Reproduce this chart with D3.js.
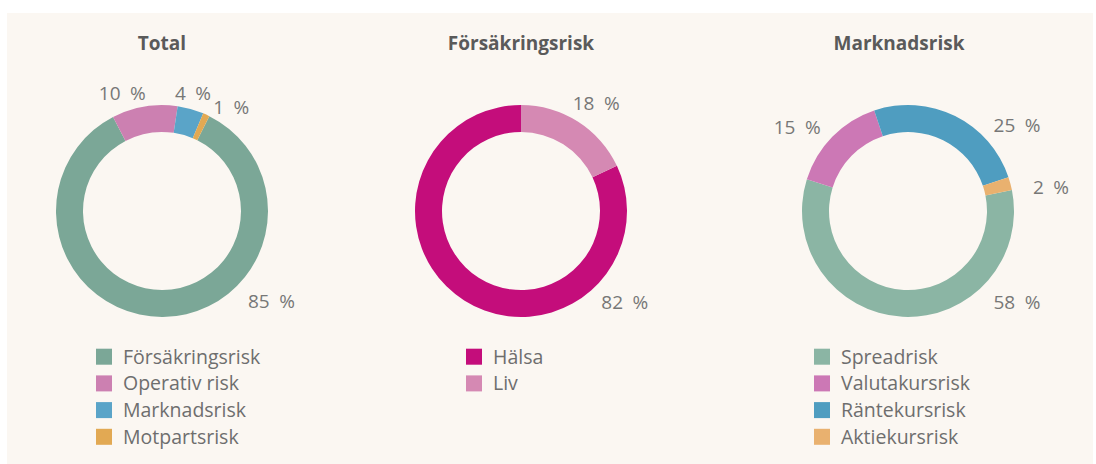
<!DOCTYPE html>
<html>
<head>
<meta charset="utf-8">
<script src="https://cdn.jsdelivr.net/npm/d3@7"></script>
<style>
  body { margin: 0; background: #fff; }
  svg { display: block; }
</style>
</head>
<body>
<div id="chart"></div>
<script>
// data
const titles = ["Total", "Försäkringsrisk", "Marknadsrisk"];

const totalCategories = ["Försäkringsrisk", "Operativ risk", "Marknadsrisk", "Motpartsrisk"];
const totalValues = [85, 10, 4, 1];

const forsCategories = ["Hälsa", "Liv"];
const forsValues = [82, 18];

const markCategories = ["Spreadrisk", "Valutakursrisk", "Räntekursrisk", "Aktiekursrisk"];
const markValues = [58, 15, 25, 2];

// colours per chart
const totalColors = ["#7ba797", "#cc80b1", "#5aa4c8", "#e2a953"];
const forsColors = ["#c40d7b", "#d589b3"];
const markColors = ["#8bb5a4", "#cc78b5", "#4f9dc0", "#e9b16f"];

// layout (rotation of first slice and where Excel put the labels, degrees from top)
const layout = [
  { cx: 162, start: 26.5, labelAngle: [129.6, -18.7, 14.7, 33.6], labelR: [142, 124, 122, 125], legendX: 96 },
  { cx: 521, start: 64.8, labelAngle: [131.2, 35], labelR: [138, 131], legendX: 466 },
  { cx: 908, start: 78.6, labelAngle: [129.9, -52.9, 51.7, 80.5], labelR: [142, 139, 139, 145], legendX: 814 },
];

const charts = [
  { cats: totalCategories, vals: totalValues, colors: totalColors },
  { cats: forsCategories, vals: forsValues, colors: forsColors },
  { cats: markCategories, vals: markValues, colors: markColors },
];

const W = 1096, H = 464;
const cy = 211, outerR = 106, innerR = 79;
const font = "'Open Sans', 'Liberation Sans', sans-serif";

const svg = d3.select("#chart").append("svg")
  .attr("width", W)
  .attr("height", H);

svg.append("rect")
  .attr("x", 7).attr("y", 13)
  .attr("width", 1086).attr("height", H - 13)
  .attr("fill", "#fbf7f2");

const arc = d3.arc().innerRadius(innerR).outerRadius(outerR);
const rad = (d) => d * Math.PI / 180;

charts.forEach((c, k) => {
  const L = layout[k];
  const g = svg.append("g").attr("transform", `translate(${L.cx},${cy})`);

  const pie = d3.pie()
    .sort(null)
    .value((d) => d)
    .startAngle(rad(L.start))
    .endAngle(rad(L.start) + 2 * Math.PI);

  const arcs = pie(c.vals);

  g.selectAll("path")
    .data(arcs)
    .join("path")
    .attr("d", arc)
    .attr("fill", (d, i) => c.colors[i]);

  g.selectAll("text.lbl")
    .data(arcs)
    .join("text")
    .attr("class", "lbl")
    .attr("x", (d, i) => L.labelR[i] * Math.sin(rad(L.labelAngle[i])))
    .attr("y", (d, i) => -L.labelR[i] * Math.cos(rad(L.labelAngle[i])))
    .attr("dy", "0.35em")
    .attr("text-anchor", "middle")
    .attr("font-family", font)
    .attr("font-size", 19)
    .attr("fill", "#777")
    .text((d) => d.data + "\u2002%");

  // title
  svg.append("text")
    .attr("x", k == 2 ? L.cx - 9 : L.cx)
    .attr("y", 43)
    .attr("dy", "0.35em")
    .attr("text-anchor", "middle")
    .attr("font-family", font)
    .attr("font-weight", "bold")
    .attr("font-size", 19)
    .attr("fill", "#5a5a5a")
    .text(titles[k]);

  // legend
  const leg = svg.append("g")
    .selectAll("g")
    .data(c.cats)
    .join("g")
    .attr("transform", (d, i) => `translate(${L.legendX},${356.7 + i * 26.7})`);

  leg.append("rect")
    .attr("x", 0).attr("y", -8)
    .attr("width", 16).attr("height", 16)
    .attr("fill", (d, i) => c.colors[i]);

  leg.append("text")
    .attr("x", 27)
    .attr("dy", "0.35em")
    .attr("font-family", font)
    .attr("font-size", 19.5)
    .attr("fill", "#6e6e6e")
    .text((d) => d);
});
</script>
</body>
</html>
